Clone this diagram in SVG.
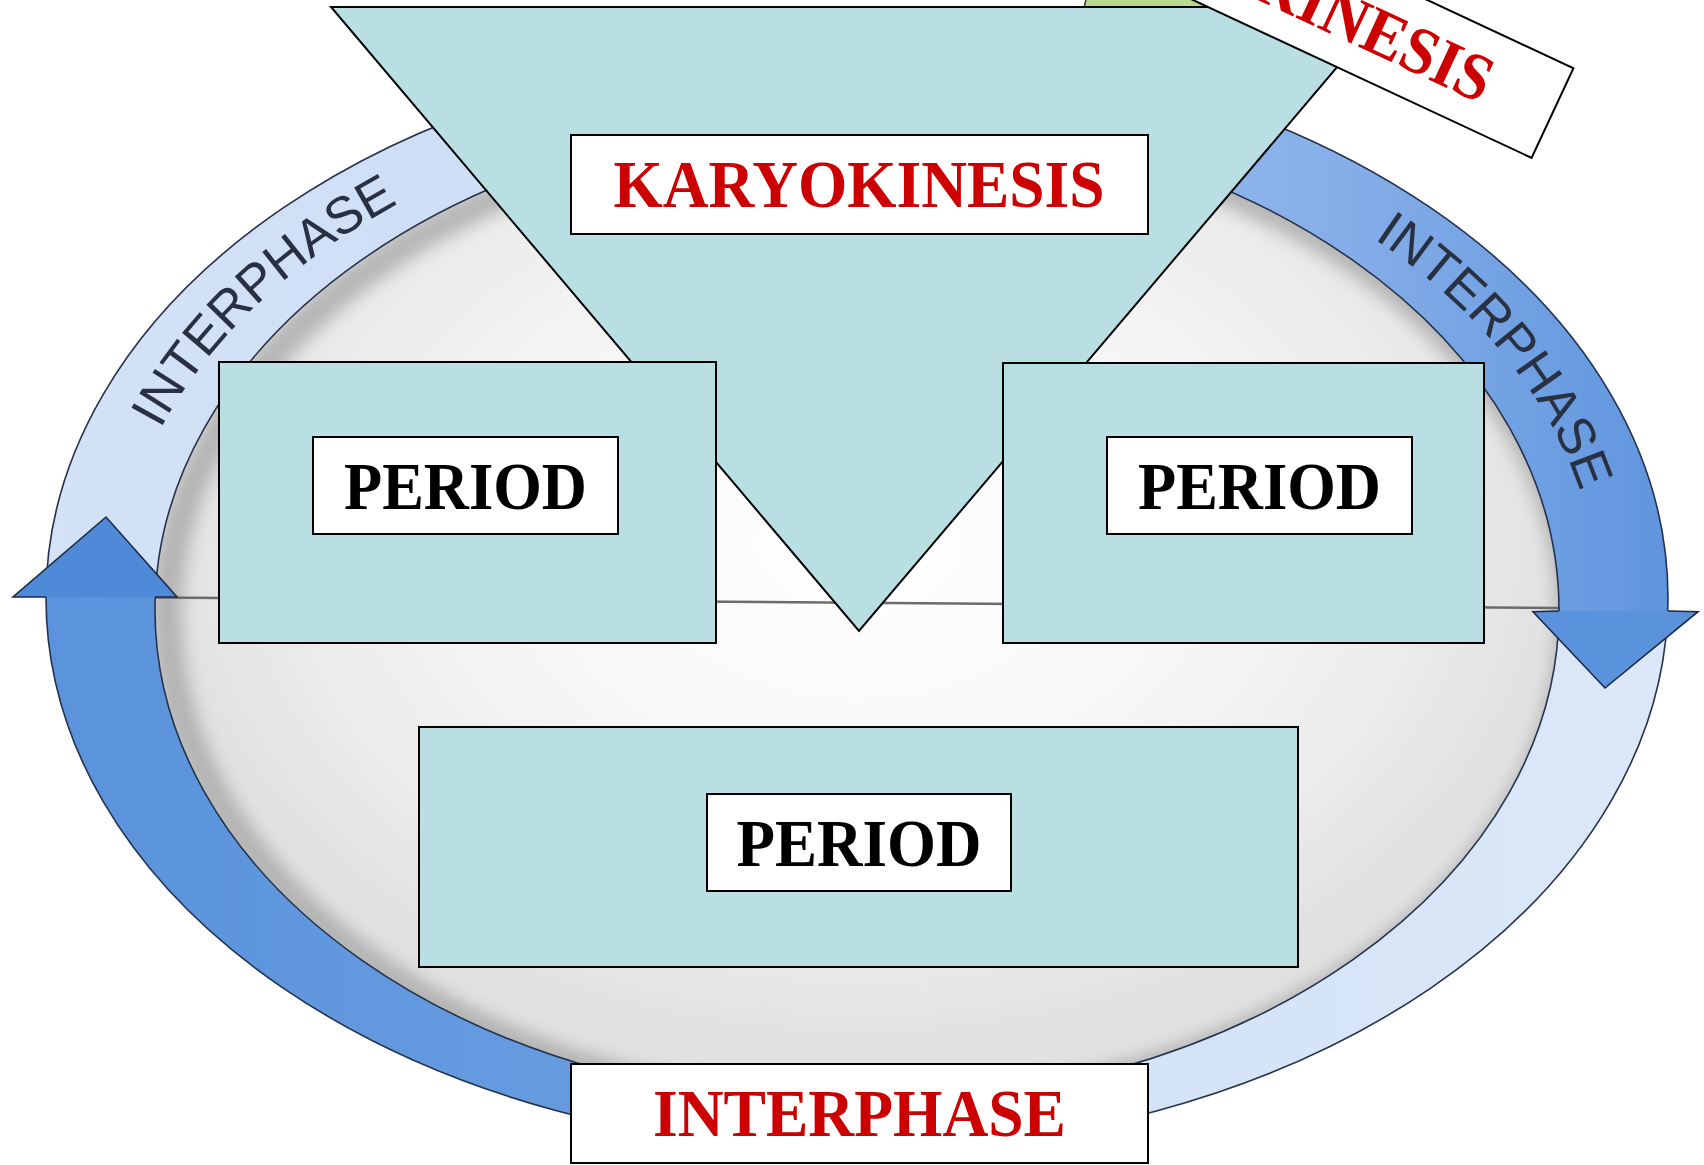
<svg xmlns="http://www.w3.org/2000/svg" width="1704" height="1165" viewBox="0 0 1704 1165">
<style>
.box{fill:#b9dfe3;stroke:#000;stroke-width:2}
.label{fill:#fff;stroke:#000;stroke-width:2}
.t{font-family:"Liberation Serif","Times New Roman",serif;font-weight:bold;font-size:67px;text-anchor:middle}
.end{text-anchor:end}
.red{fill:#cc0000}
.blk{fill:#000}
.ringtxt{font-family:"Liberation Sans",Arial,sans-serif;font-size:52px;fill:#283042;text-anchor:middle}
.edge{fill:none;stroke:#24324c;stroke-width:1.6}
.head{stroke:#1c2a46;stroke-width:1.6;stroke-linejoin:miter}
</style>
<defs>
  <radialGradient id="diskGrad" gradientUnits="userSpaceOnUse" cx="860" cy="540" r="700" gradientTransform="translate(860 540) scale(1 0.72) translate(-860 -540)">
    <stop offset="0" stop-color="#ffffff"/>
    <stop offset="0.45" stop-color="#f8f8f8"/>
    <stop offset="0.8" stop-color="#ececec"/>
    <stop offset="1" stop-color="#e1e1e1"/>
  </radialGradient>
  <linearGradient id="topBand" gradientUnits="userSpaceOnUse" x1="46" y1="0" x2="1668" y2="0">
    <stop offset="0" stop-color="#d4e2f6"/>
    <stop offset="0.5" stop-color="#c9dbf4"/>
    <stop offset="0.56" stop-color="#9dbfee"/>
    <stop offset="0.8" stop-color="#86aee8"/>
    <stop offset="1" stop-color="#5f95de"/>
  </linearGradient>
  <linearGradient id="botBand" gradientUnits="userSpaceOnUse" x1="46" y1="0" x2="1668" y2="0">
    <stop offset="0" stop-color="#5a93dc"/>
    <stop offset="0.46" stop-color="#6a9ee0"/>
    <stop offset="0.54" stop-color="#d0e0f6"/>
    <stop offset="1" stop-color="#dce8f8"/>
  </linearGradient>
  <clipPath id="diskClip"><ellipse cx="857" cy="610" rx="702" ry="494"/></clipPath>
  <filter id="blur8" x="-10%" y="-10%" width="120%" height="120%"><feGaussianBlur stdDeviation="8"/></filter>
  <path id="arcLeft" d="M140.3 473.5 A742 512 0 0 1 442.1 181.6"/>
  <path id="arcRight" d="M1343.8 219.6 A742 512 0 0 1 1589.9 525.9"/>
</defs>

<rect x="0" y="0" width="1704" height="1165" fill="#ffffff"/>

<g id="cycle-art">
  <ellipse cx="857" cy="610" rx="702" ry="494" fill="url(#diskGrad)"/>
  <g clip-path="url(#diskClip)">
    <ellipse cx="869" cy="616" rx="702" ry="494" fill="none" stroke="#8f8f8f" stroke-width="30" opacity="0.55" filter="url(#blur8)"/>
  </g>
  <line x1="155" y1="597.5" x2="1559" y2="608" stroke="#6b6b6b" stroke-width="2.5"/>
</g>

<g id="connectors">
  <path d="M46 597 A811 552 0 0 1 857 46 A811 552 0 0 1 1667.8 611 L1559 611 A702 494 0 0 0 857 116 A702 494 0 0 0 155.2 597 Z" fill="url(#topBand)"/>
  <path d="M1667.8 611 A811 552 0 0 1 857 1150 A811 552 0 0 1 46 597 L155.2 597 A702 494 0 0 0 857 1104 A702 494 0 0 0 1559 611 Z" fill="url(#botBand)"/>
  <ellipse class="edge" cx="857" cy="598" rx="811" ry="552"/>
  <ellipse class="edge" cx="857" cy="610" rx="702" ry="494"/>
  <path class="head" d="M46 597 L13 597 L106 517 L177 597 L155 597" fill="#4f8ad8"/>
  <path class="head" d="M1559 611 L1533 611.7 L1605 688 L1698 611.7 L1668 611" fill="#5a92dc"/>
  <text class="ringtxt"><textPath href="#arcLeft" startOffset="50%">INTERPHASE</textPath></text>
  <text class="ringtxt"><textPath href="#arcRight" startOffset="50%">INTERPHASE</textPath></text>
</g>

<polygon points="1087,-5 1084,8 1320,8 1320,-5" fill="#b8da8c" stroke="#333" stroke-width="1.5"/>

<g id="karyokinesis">
  <polygon points="331,7 1388,7 859,631" fill="#b9dfe3" stroke="#000" stroke-width="2"/>
  <rect class="label" x="571" y="135" width="577" height="99"/>
  <text class="t red" x="859" y="206.7" textLength="491" lengthAdjust="spacingAndGlyphs">KARYOKINESIS</text>
</g>

<g id="cytokinesis" transform="translate(1291.5 -8.7) rotate(25)">
  <rect class="label" x="-288" y="-49.5" width="576" height="99"/>
  <text class="t red end" x="218.7" y="22" textLength="255" lengthAdjust="spacingAndGlyphs">KINESIS</text>
</g>

<g id="period-left">
  <rect class="box" x="219" y="362" width="497" height="281"/>
  <rect class="label" x="313" y="437" width="305" height="97"/>
  <text class="t blk" x="465.5" y="508.5" textLength="243" lengthAdjust="spacingAndGlyphs">PERIOD</text>
</g>

<g id="period-right">
  <rect class="box" x="1003" y="363" width="481" height="280"/>
  <rect class="label" x="1107" y="437" width="305" height="97"/>
  <text class="t blk" x="1259.5" y="508.5" textLength="243" lengthAdjust="spacingAndGlyphs">PERIOD</text>
</g>

<g id="period-bottom">
  <rect class="box" x="419" y="727" width="879" height="240"/>
  <rect class="label" x="707" y="794" width="304" height="97"/>
  <text class="t blk" x="859" y="865.5" textLength="245" lengthAdjust="spacingAndGlyphs">PERIOD</text>
</g>

<g id="interphase">
  <rect class="label" x="571" y="1064" width="577" height="99"/>
  <text class="t red" x="859.5" y="1135.5" textLength="413" lengthAdjust="spacingAndGlyphs">INTERPHASE</text>
</g>
</svg>
